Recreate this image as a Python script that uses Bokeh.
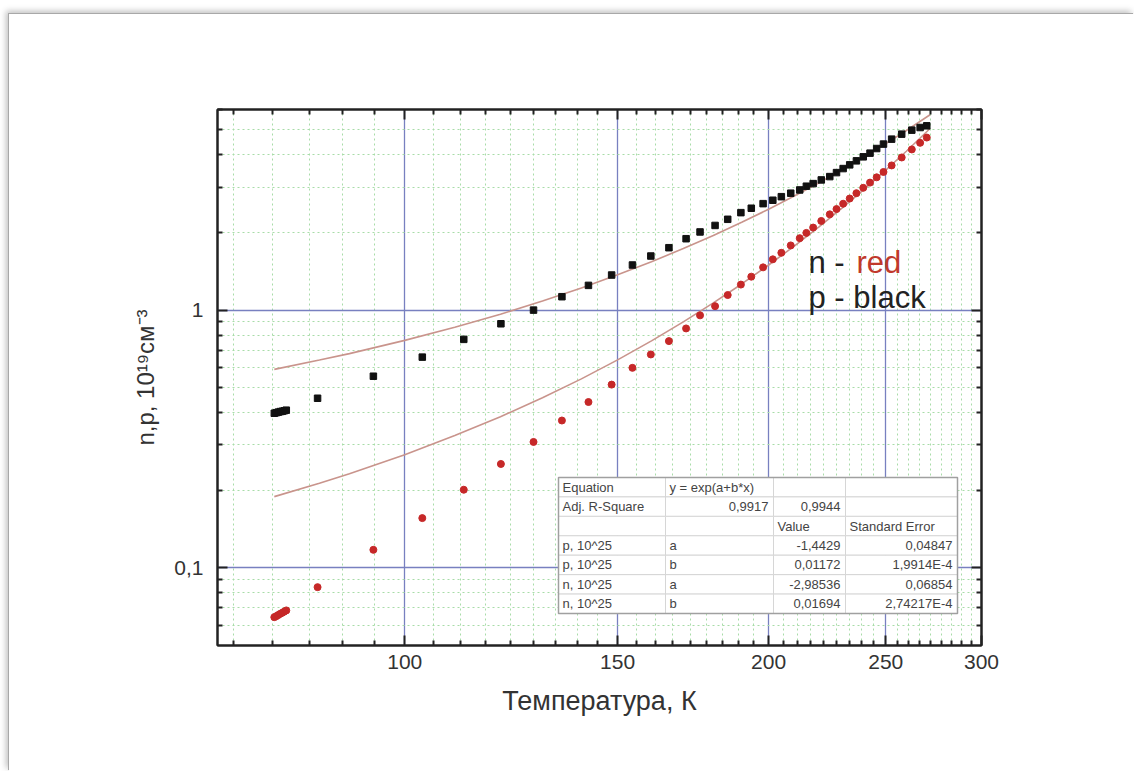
from math import log10
from bokeh.plotting import figure
from bokeh.models import FixedTicker, LogAxis, CustomJSTickFormatter, Range1d, Spacer
from bokeh.layouts import column, row
from bokeh.embed import file_html
from bokeh.resources import INLINE
from bokeh.core.properties import value

# ---------------- data ----------------
T = [78.0, 78.3, 78.6, 78.9, 79.2, 79.5, 79.8,
     84.7, 94.2, 103.4, 111.9, 120.1, 127.8, 134.9, 141.9, 148.3, 154.3,
     159.8, 165.4, 170.9, 175.5, 180.6, 185.0,
     189.7, 193.5, 197.9, 201.6, 204.9, 208.6, 212.2, 214.9, 217.7, 221.1,
     224.7, 227.6, 230.5, 233.4, 236.4, 239.5, 242.6, 245.7, 248.9, 252.8,
     257.7, 262.7, 266.9, 270.3]

p_vals = [0.398, 0.400, 0.402, 0.404, 0.405, 0.407, 0.409,
          0.455, 0.554, 0.657, 0.770, 0.885, 1.000, 1.127, 1.247, 1.368, 1.496,
          1.621, 1.746, 1.892, 2.010, 2.130, 2.250,
          2.388, 2.484, 2.588, 2.668, 2.754, 2.841, 2.925, 3.024, 3.095, 3.199,
          3.295, 3.415, 3.540, 3.659, 3.793, 3.931, 4.063, 4.234, 4.404, 4.605,
          4.815, 4.990, 5.108, 5.187]

n_vals = [0.0644, 0.0650, 0.0657, 0.0664, 0.0670, 0.0677, 0.0684,
          0.0842, 0.1175, 0.156, 0.201, 0.253, 0.308, 0.373, 0.440, 0.514, 0.597,
          0.673, 0.758, 0.849, 0.954, 1.036, 1.144,
          1.256, 1.348, 1.465, 1.574, 1.668, 1.782, 1.901, 1.993, 2.090, 2.217,
          2.352, 2.466, 2.586, 2.709, 2.841, 2.981, 3.123, 3.274, 3.434, 3.641,
          3.909, 4.200, 4.455, 4.670]

T_fit = [78, 85, 90, 100, 110, 120, 130, 140, 150, 160, 170, 180, 190, 200,
         210, 220, 230, 240, 250, 260, 272]
p_fit = [0.589, 0.640, 0.678, 0.763, 0.858, 0.964, 1.084, 1.219, 1.370, 1.541,
         1.732, 1.948, 2.190, 2.462, 2.769, 3.113, 3.500, 3.935, 4.424, 4.975, 5.725]
n_fit = [0.189, 0.213, 0.232, 0.275, 0.326, 0.386, 0.457, 0.541, 0.641, 0.760,
         0.900, 1.066, 1.263, 1.496, 1.772, 2.099, 2.487, 2.945, 3.489, 4.133, 5.065]

x_major = [100, 150, 200, 250, 300]
y_major = [0.1, 1]
y_minor = [0.06, 0.07, 0.08, 0.09, 0.2, 0.3, 0.4, 0.5, 0.6, 0.7, 0.8, 0.9, 2, 3, 4, 5, 6]

table_rows = [
    ["Equation", "y = exp(a+b*x)", "", ""],
    ["Adj. R-Square", "0,9917", "0,9944", ""],
    ["", "", "Value", "Standard Error"],
    ["p, 10^25", "a", "-1,4429", "0,04847"],
    ["p, 10^25", "b", "0,01172", "1,9914E-4"],
    ["n, 10^25", "a", "-2,98536", "0,06854"],
    ["n, 10^25", "b", "0,01694", "2,74217E-4"],
]

# ---------------- geometry ----------------
X0, X1 = 70, 300
Y0, Y1 = 0.05, 6
FW, FH = 764, 536
W, H = 1125, 757
ML, MT = 208, 95

def fx(px):
    return 10 ** (log10(X0) + px / FW * (log10(X1) - log10(X0)))

def fy(py):
    return 10 ** (log10(Y1) - py / FH * (log10(Y1) - log10(Y0)))

FONT = "Liberation Sans"

p = figure(width=W, height=H, x_axis_type="log", y_axis_type="log",
           x_range=Range1d(X0, X1), y_range=Range1d(Y0, Y1),
           output_backend="svg", toolbar_location=None,
           min_border_left=ML, min_border_right=W - ML - FW,
           min_border_top=MT, min_border_bottom=H - MT - FH,
           background_fill_color="white", border_fill_color="white")
p.outline_line_color = "#222222"
p.outline_line_width = 2

# ticks
x_minor = []
step = 50 / 9
v = 100 - step
while v > X0:
    x_minor.append(v)
    v -= step
for k in range(4):
    for j in range(1, 9):
        x_minor.append(x_major[k] + j * step)

xt = FixedTicker(ticks=x_major, minor_ticks=x_minor)
yt = FixedTicker(ticks=y_major, minor_ticks=y_minor)

bottom = p.below[0]
left = p.left[0]
top = LogAxis()
right = LogAxis()
p.add_layout(top, "above")
p.add_layout(right, "right")

for ax in (bottom, top):
    ax.ticker = xt
for ax in (left, right):
    ax.ticker = yt

bottom.formatter = CustomJSTickFormatter(code="return tick.toFixed(0);")
left.formatter = CustomJSTickFormatter(code="return tick < 0.5 ? '0,1' : '1';")
top.formatter = CustomJSTickFormatter(code="return '';")
right.formatter = CustomJSTickFormatter(code="return '';")

for ax in (bottom, left, top, right):
    ax.axis_line_color = "#222222"
    ax.axis_line_width = 2
    ax.major_tick_line_color = "#222222"
    ax.minor_tick_line_color = "#222222"
    ax.major_tick_line_width = 2
    ax.minor_tick_line_width = 2
    ax.major_tick_in = 10
    ax.major_tick_out = 0
    ax.minor_tick_in = 5
    ax.minor_tick_out = 0
    ax.major_label_text_font = FONT
    ax.major_label_text_font_size = "21px"
    ax.major_label_text_color = "#333333"

bottom.major_label_standoff = 9
left.major_label_standoff = 14
bottom.axis_label = "Температура, К"
left.axis_label = "n,p, 10¹⁹см⁻³"
for ax in (bottom, left):
    ax.axis_label_text_font = FONT
    ax.axis_label_text_font_style = "normal"
    ax.axis_label_text_color = "#333333"
bottom.axis_label_text_font_size = "27px"
left.axis_label_text_font_size = "24px"
bottom.axis_label_standoff = 14
left.axis_label_standoff = 12

# grids
for g in (p.xgrid[0], p.ygrid[0]):
    g.grid_line_color = "#7880c0"
    g.grid_line_width = 1.3
    g.minor_grid_line_color = "#a8dca8"
    g.minor_grid_line_dash = "2 3"
    g.minor_grid_line_width = 1

# fits and data
p.line(T_fit, p_fit, line_color="#c9948c", line_width=1.6)
p.line(T_fit, n_fit, line_color="#c9948c", line_width=1.6)
p.scatter(T, p_vals, marker="square", size=6.5, color="#111111")
p.scatter(T, n_vals, marker="circle", size=7, color="#c62828")

# legend texts
p.text(x=[fx(591)], y=[fy(153)], text=["n - "], text_font=value(FONT),
       text_font_size="31px", text_color="#222222", text_baseline="middle")
p.text(x=[fx(591 + 48)], y=[fy(153)], text=["red"], text_font=value(FONT),
       text_font_size="31px", text_color="#c0392b", text_baseline="middle")
p.text(x=[fx(591)], y=[fy(188)], text=["p - black"], text_font=value(FONT),
       text_font_size="31px", text_color="#222222", text_baseline="middle")

# table
col_edges = [341, 448, 556, 628, 740]
t_top, row_h = 368, 136 / 7
L, R, Tp, B = [], [], [], []
for r in range(7):
    for c in range(4):
        L.append(fx(col_edges[c]))
        R.append(fx(col_edges[c + 1]))
        Tp.append(fy(t_top + r * row_h))
        B.append(fy(t_top + (r + 1) * row_h))
p.quad(left=L, right=R, top=Tp, bottom=B, fill_color="white",
       line_color="#d6d6d6", line_width=1)
p.quad(left=[fx(col_edges[0])], right=[fx(col_edges[-1])], top=[fy(t_top)],
       bottom=[fy(t_top + 7 * row_h)], fill_color=None, line_color="#a0a0a0",
       line_width=1.5)

left_x = [345, 452, 560, 632]
right_x = [None, 551, 623, 735]
lx, ly, lt, rx, ry, rt = [], [], [], [], [], []
for r, cells in enumerate(table_rows):
    yc = fy(t_top + (r + 0.5) * row_h)
    for c, s in enumerate(cells):
        if not s:
            continue
        is_num = any(ch.isdigit() for ch in s) and c >= 1 and not s.startswith("y")
        if is_num:
            rx.append(fx(right_x[c])); ry.append(yc); rt.append(s)
        else:
            lx.append(fx(left_x[c])); ly.append(yc); lt.append(s)
p.text(x=lx, y=ly, text=lt, text_font=value(FONT), text_font_size="13px",
       text_color="#444444", text_baseline="middle", text_align="left")
p.text(x=rx, y=ry, text=rt, text_font=value(FONT), text_font_size="13px",
       text_color="#444444", text_baseline="middle", text_align="right")

p.styles = {"box-shadow": "-1px -1px 0px 0px #a8a8a8, -3px -3px 6px rgba(0,0,0,0.25)"}

layout = column(Spacer(height=14), row(Spacer(width=9), p))
open("out.html", "w").write(file_html(layout, INLINE))
